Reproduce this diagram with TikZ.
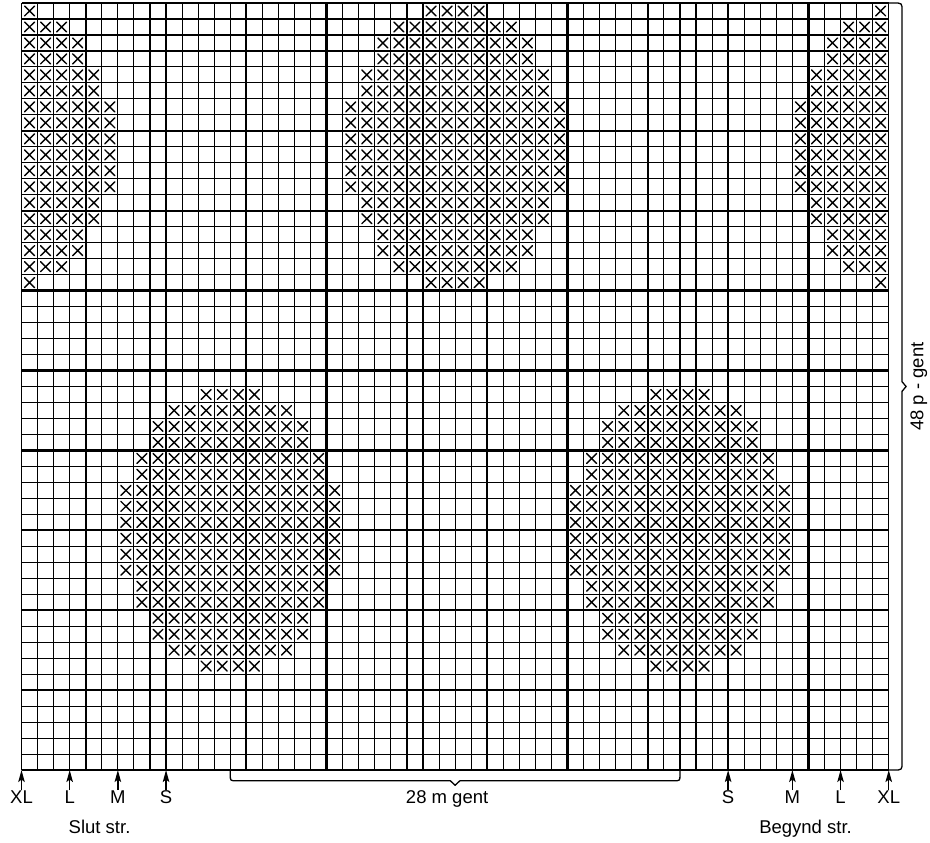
\documentclass[tikz,border=0pt]{standalone}
\usepackage{fontspec}
\setmainfont{Liberation Sans}
\usetikzlibrary{arrows.meta,positioning}
\tikzset{
  >={Stealth[length=12pt,width=6.5pt,inset=2.5pt]},
  fine/.style={line width=1.1pt},
  bold/.style={line width=2.3pt},
  cross/.style={line width=1.4pt,line cap=round},
  lab/.style={font=\fontsize{18.5}{20}\selectfont,inner sep=0pt,text height=13pt,text depth=0pt},
  marker/.style={->,line width=1.3pt},
  brc/.style={line width=1.3pt},
}
\begin{document}
\begin{tikzpicture}[x=16.06pt,y=-15.98pt]
\useasboundingbox (-21.5pt,3pt) rectangle (908.5pt,-840pt);
\begin{scope}
\clip (0,0) rectangle (54,48);
\foreach \m/\t in {-1/0,27/0,55/0,13/24,41/24}
  \foreach \k/\h in {0/2,1/4,2/5,3/5,4/6,5/6,6/7,7/7,8/7,9/7,10/7,11/7,12/6,13/6,14/5,15/5,16/4,17/2} {
    \pgfmathtruncatemacro\a{\m-\h}
    \pgfmathtruncatemacro\b{\m+\h-1}
    \foreach \c in {\a,...,\b}
      \draw[cross] (\c+.19,\t+\k+.19) -- (\c+.81,\t+\k+.81) (\c+.19,\t+\k+.81) -- (\c+.81,\t+\k+.19);
  }
\end{scope}
\foreach \c in {0,...,54} \draw[fine] (\c,0) -- (\c,48);
\foreach \r in {0,...,48} \draw[fine] (0,\r) -- (54,\r);
\foreach \c in {4,9,...,49} \draw[bold] (\c,0) -- (\c,48);
\foreach \r in {3,8,...,43} \draw[bold] (0,\r) -- (54,\r);
\foreach \x/\sz/\nm in {0/XL/a,3/L/b,6/M/c,9/S/d,44/S/e,48/M/f,51/L/g,54/XL/h} {
  \coordinate (p\nm) at (\x,48);
  \node[lab,below=20pt of p\nm] (s\nm) {\sz};
  \draw[marker] (s\nm) -- (p\nm);
}
\coordinate (nb) at (27,48.95);
\draw[brc] (13,48) -- (13,48.3) .. controls (13,48.67) .. (13.37,48.67) -- (26.7,48.67) -- (nb) -- (27.3,48.67) -- (40.63,48.67) .. controls (41,48.67) .. (41,48.3) -- (41,48);
\node[lab,below=5pt of nb,xshift=-8pt] (rep) {28 m gent};
\coordinate (nr) at (55.08,24);
\draw[brc] (54,0) -- (54.3,0) .. controls (54.83,0) .. (54.83,.5) -- (54.83,23.7) -- (nr) -- (54.83,24.3) -- (54.83,47.5) .. controls (54.83,48) .. (54.3,48) -- (54,48);
\node[lab,rotate=90,anchor=north] (rows) at ([xshift=4pt]nr) {48 p - gent};
\node[lab,anchor=base] (slut) at (4.86,51.96) {Slut str.};
\node[lab,anchor=base] (beg) at (48.82,51.96) {Begynd str.};
\end{tikzpicture}
\end{document}
